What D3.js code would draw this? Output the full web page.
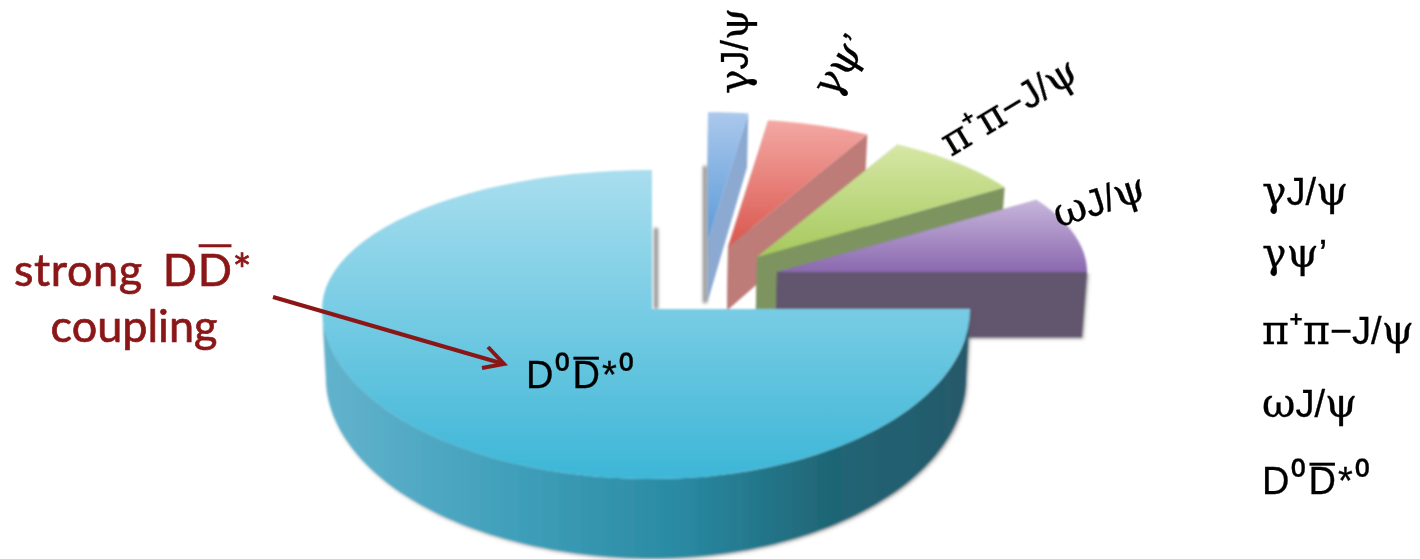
<!DOCTYPE html>
<html><head><meta charset="utf-8">
<script src="https://cdn.jsdelivr.net/npm/d3@7"></script>
<style>html,body{margin:0;padding:0;background:#fff;overflow:hidden}svg{display:block}</style>
</head><body><svg id="c" width="1420" height="559"></svg>
<script>
const categories = ["γJ/ψ", "γψ’", "π⁺π−J/ψ", "ωJ/ψ", "D⁰D*⁰"];
const shares = [2.2, 5.7, 7.9, 9.2, 75];
const annotationLines = ["strong DD*", "coupling"];

// layout & styling
const W = 1420, H = 559;
const sx = d3.scaleLinear().domain([-1, 0, 1]).range([322, 652, 970]);
const sy = d3.scaleLinear().domain([-1, 0, 1]).range([479, 309, 170]);
const depth = d3.scaleLinear().domain([-1, 0, 1]).range([79, 68, 58]);
const explodeU = [0.176, 0.239, 0.33, 0.393, 0];
const explodeV = [0.496, 0.446, 0.374, 0.266, 0];
const radiusU = [0.92, 0.92, 0.93, 0.975, 1];
const radiusV = [0.92, 0.92, 0.92, 0.95, 1];
const topStops = [["#abc8ec", "#5b9bd8"], ["#f4a8a4", "#d9574e"], ["#d6e7a6", "#a5c95c"], ["#c7b6dc", "#8a68ae"], ["#a9deee", "#3db6d7"]];
const wallColor = ["#8ba9d1", "#bd7b78", "#7e9461", "#62566e"];
const mainWallStops = [[0, "#63b3cd"], [0.3, "#3f9fba"], [0.55, "#2a8aa3"], [0.78, "#1f6676"], [1, "#26596a"]];
const labelPos = [
  {x: 748, y: 94, r: -90}, {x: 834, y: 100, r: -58}, {x: 951, y: 157, r: -31},
  {x: 1058, y: 228, r: -18}, {x: 526, y: 388, r: 0}
];
const legendX = 1262, legendY = [205, 267, 344, 417, 494];
const fontSize = 38, greekSize = 41, darkRed = "#8a1518", dSpacing = 2;
const greekFont = "'DejaVu Serif',serif", latinFont = "'Liberation Sans',sans-serif";

const svg = d3.select("#c");
const defs = svg.append("defs");
const soft = defs.append("filter").attr("id", "soft").attr("x", "-2%").attr("y", "-2%").attr("width", "104%").attr("height", "104%");
soft.append("feGaussianBlur").attr("stdDeviation", 0.85);
const inkSoft = defs.append("filter").attr("id", "inkSoft").attr("filterUnits", "userSpaceOnUse").attr("x", 0).attr("y", 0).attr("width", W).attr("height", H);
inkSoft.append("feGaussianBlur").attr("stdDeviation", 0.5);
const shadowBlur = defs.append("filter").attr("id", "sh").attr("filterUnits", "userSpaceOnUse").attr("x", 0).attr("y", 0).attr("width", W).attr("height", H);
shadowBlur.append("feGaussianBlur").attr("stdDeviation", 1.7);
const wallShadow = defs.append("filter").attr("id", "wsh").attr("x", "-5%").attr("y", "-5%").attr("width", "110%").attr("height", "110%");
wallShadow.append("feDropShadow").attr("dx", 1.5).attr("dy", 1.5).attr("stdDeviation", 1.5).attr("flood-color", "#555").attr("flood-opacity", 0.6);

topStops.forEach((s, i) => {
  const g = defs.append("linearGradient").attr("id", "top" + i).attr("x1", 0).attr("y1", 0).attr("x2", 0).attr("y2", 1);
  g.append("stop").attr("offset", 0).attr("stop-color", s[0]);
  g.append("stop").attr("offset", 1).attr("stop-color", s[1]);
});
const mw = defs.append("linearGradient").attr("id", "mainWall").attr("gradientUnits", "userSpaceOnUse")
  .attr("x1", sx(-1)).attr("x2", sx(1)).attr("y1", 0).attr("y2", 0);
mainWallStops.forEach(s => mw.append("stop").attr("offset", s[0]).attr("stop-color", s[1]));

const pie = d3.pie().sort(null).value(d => d)(shares);
const line = d3.line();
const root = svg.append("g").attr("filter", "url(#soft)");
const ink = svg.append("g").attr("filter", "url(#inkSoft)");

function pt(i, a, f) {           // top-face point of slice i at pie angle a, radial fraction f
  const u = explodeU[i] + f * radiusU[i] * Math.sin(a), v = explodeV[i] + f * radiusV[i] * Math.cos(a);
  return {x: sx(u), y: sy(v), h: depth(v)};
}
const flat = p => [p.x, p.y];
const low = p => [p.x + (646 - p.x) * 0.012, p.y + p.h];

pie.forEach((d, i) => {
  const angles = d3.range(0, 81).map(k => d.startAngle + (d.endAngle - d.startAngle) * k / 80);
  const rim = angles.map(a => pt(i, a, 1));
  const apex = pt(i, 0, 0);
  const g = root.append("g");
  if (i === 4) {
    const front = d3.range(0, 121).map(k => pt(i, Math.PI / 2 + Math.PI * k / 120, 1));
    g.append("path").attr("d", line([...front.map(flat), ...front.slice().reverse().map(low)]) + "Z")
      .attr("fill", "url(#mainWall)").attr("filter", "url(#wsh)");
  } else {
    const end = rim[rim.length - 1];
    g.append("path").attr("d", line([flat(rim[0]), flat(apex), low(apex), low(rim[0])]) + "Z").attr("fill", wallColor[i]);
    g.append("path").attr("d", line([flat(apex), flat(end), low(end), low(apex)]) + "Z")
      .attr("fill", wallColor[i]).attr("filter", i === 3 ? "url(#wsh)" : null);
  }
  if (i === 0 || i === 4) {      // soft shadow down the notch edge
    const e = pt(i, 0, 1);
    const off = i === 0 ? -3 : 4;
    g.append("line").attr("x1", e.x + off).attr("x2", e.x + off)
      .attr("y1", e.y + e.h).attr("y2", apex.y + apex.h * (i === 0 ? 1 : 0))
      .attr("stroke", "#8a8a8a").attr("stroke-width", 4).attr("filter", "url(#sh)");
  }
  g.append("path").attr("d", line([flat(apex), ...rim.map(flat)]) + "Z").attr("fill", `url(#top${i})`);
});

// text with mixed Greek / Latin runs
function rich(sel, str) {
  let run = "", kind = null;
  const flush = () => {
    if (!run) return;
    const t = sel.append("tspan").text(run).attr("font-family", kind === "g" ? greekFont : latinFont);
    if (kind === "g") t.attr("font-size", greekSize);
    if (kind === "s") t.attr("font-size", fontSize * 1.1);
    run = "";
  };
  for (const ch of str) {
    const k = /[γψπω]/.test(ch) ? "g" : /[⁰⁺]/.test(ch) ? "s" : "l";
    if (k !== kind) { flush(); kind = k; }
    run += ch;
  }
  flush();
}
function barOver(textSel, idx, color, width, frac) {
  const b = textSel.node().getExtentOfChar(idx);
  ink.append("line").attr("x1", b.x + 1).attr("x2", b.x + b.width - 1 - (color === "#000" ? dSpacing : 0))
    .attr("y1", b.y + b.height * frac).attr("y2", b.y + b.height * frac)
    .attr("stroke", color).attr("stroke-width", width);
}
const inkText = t => t.attr("font-size", fontSize).attr("fill", "#000").attr("stroke", "#000").attr("stroke-width", 0.3);
categories.forEach((c, i) => {
  if (i < 4) rich(inkText(ink.append("text").attr("transform", `translate(${labelPos[i].x},${labelPos[i].y}) rotate(${labelPos[i].r})`)), c);
});
function ddbar(str, x, y) {
  const t = inkText(ink.append("text").attr("x", x).attr("y", y));
  if (str.startsWith("D⁰")) t.attr("letter-spacing", dSpacing);
  rich(t, str);
  if (str.startsWith("D⁰")) barOver(t, 2, "#000", 3, 0.1);
  return t;
}
ddbar(categories[4], labelPos[4].x, labelPos[4].y);
categories.forEach((c, i) => ddbar(c, legendX, legendY[i]));

// annotation
const a0 = ink.append("text").attr("x", 14).attr("y", 286).attr("font-family", "Lato,sans-serif")
  .attr("font-size", 45).attr("word-spacing", 8).attr("letter-spacing", 0.6).attr("fill", darkRed).attr("stroke", darkRed).attr("stroke-width", 0.7).text(annotationLines[0]);
barOver(a0, 8, darkRed, 3, 0.07);
ink.append("text").attr("x", 134).attr("y", 342).attr("text-anchor", "middle").attr("font-family", "Lato,sans-serif")
  .attr("font-size", 45).attr("fill", darkRed).attr("stroke", darkRed).attr("stroke-width", 0.7).text(annotationLines[1]);

// arrow: from the annotation to the D⁰D*⁰ label
const arrowFrom = [273, 297], arrowTo = [504, 364];
ink.append("path").attr("d", line([arrowFrom, arrowTo])).attr("stroke", darkRed).attr("stroke-width", 4).attr("fill", "none");
ink.append("path").attr("d", line([[488, 347], arrowTo, [482, 368]])).attr("stroke", darkRed).attr("stroke-width", 4).attr("fill", "none");
</script></body></html>
